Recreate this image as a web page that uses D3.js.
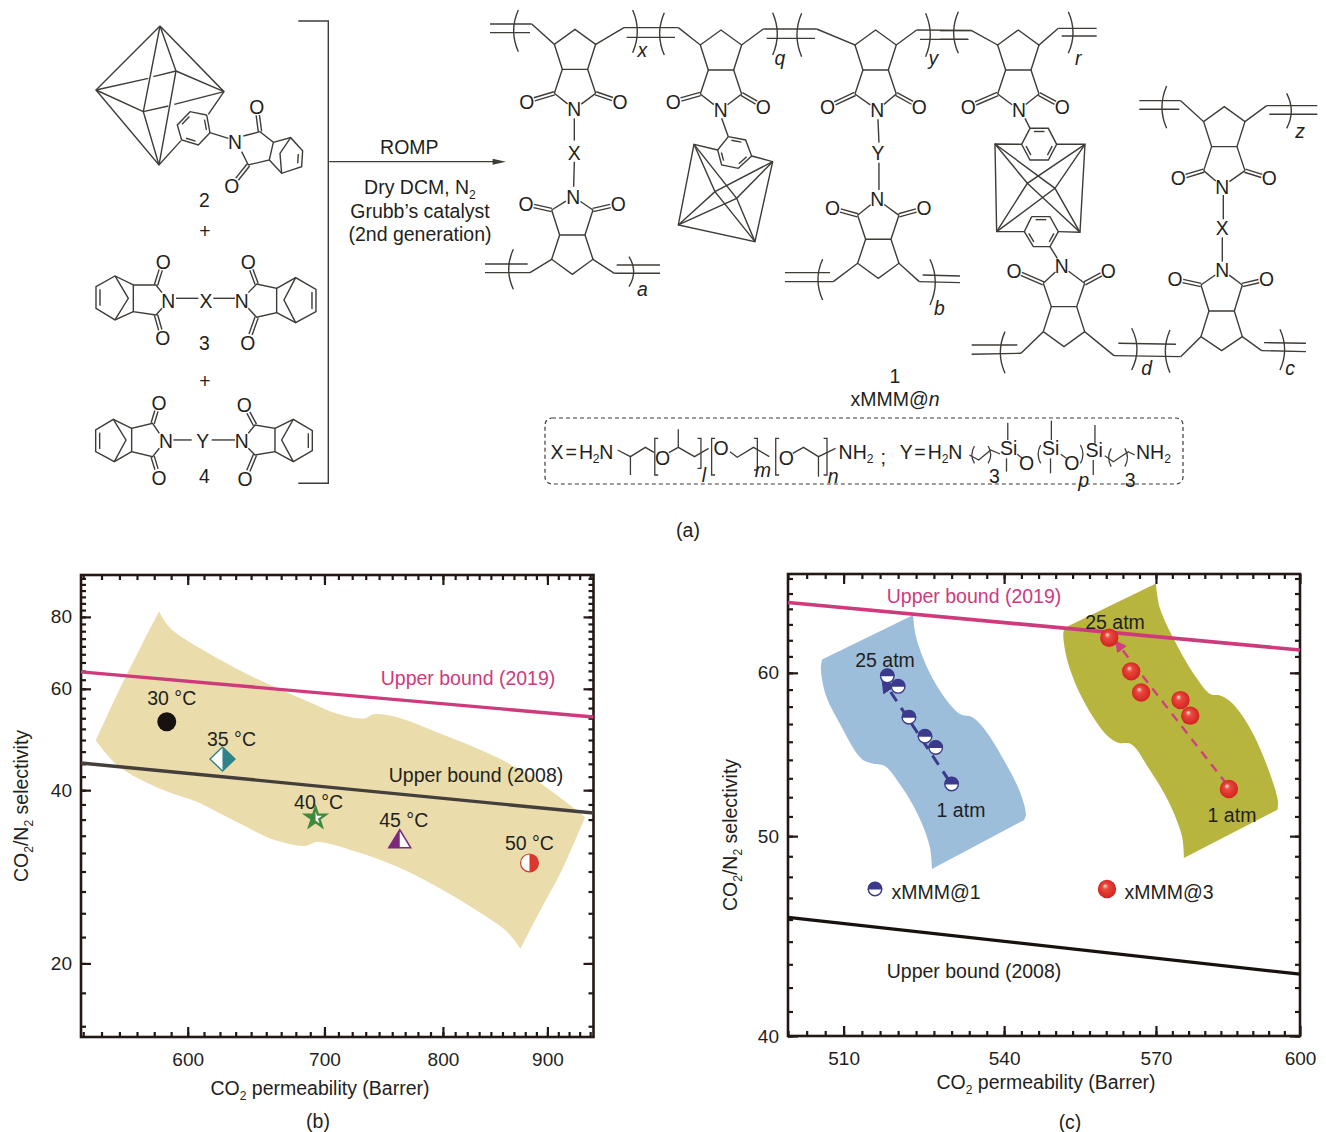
<!DOCTYPE html>
<meta charset="utf-8">
<head>
<script src="https://d3js.org/d3.v7.min.js"></script>
<style>
body { margin: 0; background: #fff; }
text { font-family: "Liberation Sans", Arial, sans-serif; fill: #231f20; }
.chem path { fill: none; stroke: #3f3b37; stroke-linejoin: miter; }
.axis path { display: none; }
.axis line { stroke: #231815; stroke-width: 2.2; }
</style>
</head>
<body>
<svg id="fig" width="1326" height="1132"></svg>
<script>
// ---- panel (b) values
var tempLabels = ["30 °C", "35 °C", "40 °C", "45 °C", "50 °C"];
var tempX = [586, 624, 693, 762, 882];
var tempY = [52.6, 45.3, 35.8, 32.8, 29.9];
var bX2019 = [532, 948], bY2019 = [64.2, 53.6];
var bX2008 = [532, 948], bY2008 = [44.6, 36.5];
var bXTicks = [600, 700, 800, 900], bYTicks = [20, 40, 60, 80];
// beige band outline: [permeability, selectivity]
var bBandTop = [[581, 81.8], [588, 76.6], [612, 69.7], [640, 63.9], [663, 60.3], [688, 56.9], [709, 54.4], [732, 53.3], [740, 54.2], [759, 53.6], [793, 50.6], [830, 47.4], [867, 44], [907, 39.5], [939, 35.9]];
var bBandRight = [[939, 35.9], [915, 29.1], [891, 24.4], [873, 21.2]];
var bBandBottom = [[873, 21.2], [860, 22.7], [830, 24.8], [793, 27.3], [759, 29.5], [725, 31.3], [694, 32.5], [685, 32], [663, 32.7], [634, 35.2], [607, 38.1], [580, 40.4], [555, 44], [541, 48.8]];
var bBandLeft = [[541, 48.8], [555, 59.4], [570, 71.8], [581, 81.8]];

// ---- panel (c) values
var m1X = [530, 527, 525, 522, 520, 518];
var m1Y = [53, 55.2, 55.9, 57.1, 59.1, 59.8];
var m3X = [585, 577, 575, 567, 565, 560.6];
var m3Y = [52.7, 57.2, 58.2, 58.7, 60.1, 62.4];
var m1Arrow = [[529.5, 53.2], [517.2, 59.5]];
var m3Arrow = [[584.5, 53], [562, 62.1]];
var cX2019 = [500, 600], cY2019 = [64.9, 61.55];
var cX2008 = [500, 600], cY2008 = [45.66, 42.86];
var cXTicks = [510, 540, 570, 600], cYTicks = [40, 50, 60];
var cBlueTop = [[506.1, 60.9], [522.8, 64]];
var cBlueRight = [[522.8, 64], [523.3, 62.5], [525.6, 60.2], [528.6, 58.4], [531.6, 57.3], [533.9, 57.1], [536.1, 56.4], [540, 54.4], [543.1, 52.5], [544.2, 51.2], [543.8, 50.9]];
var cBlueBottom = [[543.8, 50.9], [526.3, 48.2]];
var cBlueLeft = [[526.3, 48.2], [525.9, 49.4], [523.7, 51.2], [520.3, 53], [517.4, 54.1], [515.6, 54.2], [513.3, 54.5], [509.3, 56.7], [506.8, 58.5], [505.9, 60.2], [506.1, 60.9]];
var cOliveTop = [[551.8, 63.1], [570, 66.3]];
var cOliveRight = [[570, 66.3], [570.8, 64.5], [574.1, 62], [578.2, 59.7], [581.1, 58.6], [583.2, 58.5], [585.7, 58], [589.8, 56.2], [594, 53.3], [595.3, 52], [595.2, 51.5]];
var cOliveBottom = [[595.2, 51.5], [575.7, 48.8]];
var cOliveLeft = [[575.7, 48.8], [575.3, 50], [572.5, 52], [568.4, 54], [565, 55.4], [562.4, 55.5], [560, 56], [555.6, 58.1], [552.4, 60.7], [551.5, 62.7], [551.8, 63.1]];

var FS = 19.5;   // label size in page pixels
var svg = d3.select("#fig");
var defs = svg.append("defs");
var line = d3.line();
var smooth = d3.line().curve(d3.curveCatmullRom.alpha(0.5));

var grad = defs.append("radialGradient").attr("id", "sphere")
  .attr("cx", "50%").attr("cy", "50%").attr("r", "55%").attr("fx", "38%").attr("fy", "32%");
grad.append("stop").attr("offset", "0%").attr("stop-color", "#fbe3df");
grad.append("stop").attr("offset", "28%").attr("stop-color", "#ea4a3e");
grad.append("stop").attr("offset", "100%").attr("stop-color", "#cf1f1d");

defs.append("clipPath").attr("id", "leftHalf").append("rect").attr("x", -20).attr("y", -20).attr("width", 20).attr("height", 40);
defs.append("clipPath").attr("id", "rightHalf").append("rect").attr("x", 0).attr("y", -20).attr("width", 20).attr("height", 40);
defs.append("clipPath").attr("id", "topHalf").append("rect").attr("x", -20).attr("y", -20).attr("width", 40).attr("height", 20.5);

function arrowHead(id, col) {
  defs.append("marker").attr("id", id).attr("viewBox", "0 0 10 10").attr("refX", 8).attr("refY", 5)
    .attr("markerWidth", 5).attr("markerHeight", 5).attr("orient", "auto")
    .append("path").attr("d", "M0,0L10,5L0,10Z").attr("fill", col);
}
arrowHead("headBlue", "#3b3a8c");
arrowHead("headPink", "#d1407e");

// text with sub / italic runs: parts = [["CO"], ["2", "sub"], ["/N"], ...]
function txt(g, x, y, parts, size, anchor) {
  if (typeof parts === "string") parts = [[parts]];
  var t = g.append("text").attr("x", x).attr("y", y).attr("font-size", size).attr("text-anchor", anchor || "middle");
  var wasSub = false;
  parts.forEach(function(p) {
    var s = t.append("tspan").text(p[0]);
    var dy = 0;
    if (p[1] === "sub") { dy = size * 0.24; s.attr("font-size", size * 0.62); wasSub = true; }
    else if (wasSub) { dy = -size * 0.24; wasSub = false; }
    if (dy) s.attr("dy", dy);
    if (p[1] === "i") s.attr("font-style", "italic");
  });
  return t;
}

// ---- charts
function panel(o) {
  var x = d3.scaleLog().domain(o.xDomain).range([o.left, o.right]);
  var y = d3.scaleLog().domain(o.yDomain).range([o.bottom, o.top]);
  var g = svg.append("g");

  function minors(dom, step, start) {
    var out = [];
    for (var v = start; v <= dom[1]; v += step) if (v >= dom[0]) out.push(v);
    return out;
  }
  var xMin = minors(o.xDomain, o.xStep, o.xStart);
  var yMin = minors(o.yDomain, o.yStep, o.yStart);

  o.bands.forEach(function(b) {
    var d = b.edges.map(function(e, i) {
      var s = smooth(e.map(function(p) { return [x(p[0]), y(p[1])]; }));
      return i ? s.replace(/^M/, "L") : s;
    }).join("") + "Z";
    g.append("path").attr("d", d).attr("fill", b.fill);
  });

  function ax(gen, tx, ty, vals, len, labels, pad) {
    var a = gen.tickValues(vals).tickSize(-len).tickPadding(pad || 0)
      .tickFormat(labels ? d3.format("d") : "");
    var s = g.append("g").attr("class", "axis").attr("transform", "translate(" + tx + "," + ty + ")").call(a);
    s.selectAll("text").attr("font-size", 19).attr("fill", "#231f20")
      .style("font-family", '"Liberation Sans", Arial, sans-serif');
  }
  ax(d3.axisBottom(x), 0, o.bottom, xMin, 5, false);
  ax(d3.axisTop(x), 0, o.top, xMin, 5, false);
  ax(d3.axisLeft(y), o.left, 0, yMin, 5, false);
  ax(d3.axisRight(y), o.right, 0, yMin, 5, false);
  ax(d3.axisBottom(x), 0, o.bottom, o.xTicks, 10, true, 16);
  ax(d3.axisTop(x), 0, o.top, o.xTicks, 10, false);
  ax(d3.axisLeft(y), o.left, 0, o.yTicks, 10, true, 9);
  ax(d3.axisRight(y), o.right, 0, o.yTicks, 10, false);
  g.append("rect").attr("x", o.left).attr("y", o.top).attr("width", o.right - o.left).attr("height", o.bottom - o.top)
    .attr("fill", "none").attr("stroke", "#231815").attr("stroke-width", 2.6);

  o.lines.forEach(function(l) {
    g.append("path").attr("d", line([[x(l.x[0]), y(l.y[0])], [x(l.x[1]), y(l.y[1])]]))
      .attr("stroke", l.col).attr("stroke-width", l.w).attr("fill", "none");
  });

  txt(g, o.xTitle[0], o.xTitle[1], [["CO"], ["2", "sub"], [" permeability (Barrer)"]], FS);
  var yt = o.yTitle;
  txt(g, 0, 0, [["CO"], ["2", "sub"], ["/N"], ["2", "sub"], [" selectivity"]], FS)
    .attr("transform", "translate(" + yt[0] + "," + yt[1] + ") rotate(-90)");
  return { g: g, x: x, y: y };
}

var pb = panel({
  left: 81, right: 593.5, top: 575, bottom: 1037,
  xDomain: [532, 948], yDomain: [14.9, 94.6],
  xTicks: bXTicks, yTicks: bYTicks,
  xStep: 100 / 9, xStart: 500, yStep: 20 / 9, yStart: 20 - 2 * 20 / 9,
  bands: [{ fill: "#eaddab", edges: [bBandTop, bBandRight, bBandBottom, bBandLeft] }],
  lines: [
    { x: bX2019, y: bY2019, col: "#cf3a7c", w: 3.4 },
    { x: bX2008, y: bY2008, col: "#453f3c", w: 3.4 }
  ],
  xTitle: [320, 1095], yTitle: [28, 806]
});

var pc = panel({
  left: 788, right: 1300, top: 574, bottom: 1036,
  xDomain: [500, 600], yDomain: [40, 67],
  xTicks: cXTicks, yTicks: cYTicks,
  xStep: 10 / 3, xStart: 500, yStep: 10 / 9, yStart: 40,
  bands: [
    { fill: "#9dbedb", edges: [cBlueTop, cBlueRight, cBlueBottom, cBlueLeft] },
    { fill: "#b8b53f", edges: [cOliveTop, cOliveRight, cOliveBottom, cOliveLeft] }
  ],
  lines: [
    { x: cX2019, y: cY2019, col: "#cf3a7c", w: 3.6 },
    { x: cX2008, y: cY2008, col: "#17120f", w: 3.2 }
  ],
  xTitle: [1046, 1089], yTitle: [737, 835]
});

// ---- panel (b) marks
txt(pb.g, 468, 685, "Upper bound (2019)", FS).style("fill", "#cf3a7c");
txt(pb.g, 476, 782, "Upper bound (2008)", FS);

function halfMark(g, px, py, d, col, clip, sw) {
  var m = g.append("g").attr("transform", "translate(" + px + "," + py + ")");
  m.append("path").attr("d", d).attr("fill", "#fff").attr("stroke", col).attr("stroke-width", sw);
  m.append("path").attr("d", d).attr("fill", col).attr("clip-path", "url(#" + clip + ")");
}
var circleD = d3.symbol(d3.symbolCircle, 250)();
var diamondD = d3.line()([[0, -12], [12.5, 0], [0, 12], [-12.5, 0]]) + "Z";
var starD = d3.symbol(d3.symbolStar, 125)();
var triD = d3.line()([[0, -10], [11, 8], [-11, 8]]) + "Z";
pb.g.selectAll("circle.t30").data([0]).join("circle")
  .attr("cx", pb.x(tempX[0])).attr("cy", pb.y(tempY[0])).attr("r", 9.5).attr("fill", "#17120f");
halfMark(pb.g, pb.x(tempX[1]), pb.y(tempY[1]), diamondD, "#2f8489", "rightHalf", 1.4);
halfMark(pb.g, pb.x(tempX[2]), pb.y(tempY[2]), starD, "#3f8a3c", "leftHalf", 2.4);
halfMark(pb.g, pb.x(tempX[3]), pb.y(tempY[3]), triD, "#7d2a7e", "leftHalf", 1.5);
halfMark(pb.g, pb.x(tempX[4]), pb.y(tempY[4]), circleD, "#d9382a", "rightHalf", 1.2);
var tempDx = [5, 9, 3, 4, 0], tempDy = [-17, -13, -9, -13, -13];
tempLabels.forEach(function(t, i) {
  txt(pb.g, pb.x(tempX[i]) + tempDx[i], pb.y(tempY[i]) + tempDy[i], t, FS);
});

// ---- panel (c) marks
function dashArrow(pts, col, w, dash, head) {
  pc.g.append("path").attr("d", line(pts.map(function(p) { return [pc.x(p[0]), pc.y(p[1])]; })))
    .attr("fill", "none").attr("stroke", col).attr("stroke-width", w)
    .attr("stroke-dasharray", dash).attr("marker-end", "url(#" + head + ")");
}
dashArrow(m1Arrow, "#3b3a8c", 3, "11,8", "headBlue");
dashArrow(m3Arrow, "#d1407e", 2.4, "9,7", "headPink");

function blueMark(g, px, py) {
  var m = g.append("g").attr("transform", "translate(" + px + "," + py + ")");
  m.append("circle").attr("r", 6.8).attr("fill", "#fff").attr("stroke", "#3b3a8c").attr("stroke-width", 1.4);
  m.append("circle").attr("r", 7.2).attr("fill", "#3b3a8c").attr("clip-path", "url(#topHalf)");
}
function redMark(g, px, py) {
  g.append("circle").attr("cx", px).attr("cy", py).attr("r", 9.2).attr("fill", "url(#sphere)");
}
m1X.forEach(function(v, i) { blueMark(pc.g, pc.x(v), pc.y(m1Y[i])); });
m3X.forEach(function(v, i) { redMark(pc.g, pc.x(v), pc.y(m3Y[i])); });
blueMark(pc.g, 875, 889);
redMark(pc.g, 1107, 889);

txt(pc.g, 974, 603, "Upper bound (2019)", FS).style("fill", "#cf3a7c");
txt(pc.g, 974, 978, "Upper bound (2008)", FS);
txt(pc.g, 936, 899, "xMMM@1", FS);
txt(pc.g, 1169, 899, "xMMM@3", FS);
txt(pc.g, 885, 667, "25 atm", FS);
txt(pc.g, 961, 817, "1 atm", FS);
txt(pc.g, 1115, 629, "25 atm", FS);
txt(pc.g, 1232, 822, "1 atm", FS);

txt(svg, 688, 537, "(a)", FS);
txt(svg, 318, 1128, "(b)", FS);
txt(svg, 1070, 1129, "(c)", FS);

// ---- scheme (a), three groups drawn at 3x so the crop coordinates stay readable
var g3 = svg.append("g").attr("class", "chem").attr("transform", "translate(80,10) scale(0.3333)").attr("stroke-width", 4.2);
var g4 = svg.append("g").attr("class", "chem").attr("transform", "translate(480,10) scale(0.3333)").attr("stroke-width", 4.2);
var g5 = svg.append("g").attr("class", "chem").attr("transform", "translate(940,10) scale(0.3333)").attr("stroke-width", 4.2);

function seg(g, pts) { g.append("path").attr("d", line(pts)); }
function segs(g, list) { list.forEach(function(p) { seg(g, p); }); }
function atom(g, x, y, s, size) { txt(g, x, y + (size || 58) * 0.36, s, size || 58); }
function trim(a, b, ta, tb) {
  var dx = b[0] - a[0], dy = b[1] - a[1], l = Math.hypot(dx, dy);
  return [[a[0] + dx * ta / l, a[1] + dy * ta / l], [b[0] - dx * tb / l, b[1] - dy * tb / l]];
}
function dbl(g, a, b, ta, tb, off) {
  var t = trim(a, b, ta, tb);
  var dx = b[0] - a[0], dy = b[1] - a[1], l = Math.hypot(dx, dy);
  var nx = -dy / l * off, ny = dx / l * off;
  seg(g, [[t[0][0] + nx, t[0][1] + ny], [t[1][0] + nx, t[1][1] + ny]]);
  seg(g, [[t[0][0] - nx, t[0][1] - ny], [t[1][0] - nx, t[1][1] - ny]]);
}
function paren(g, x, y1, y2, bow) {
  g.append("path").attr("d", "M" + x + "," + y1 + "Q" + (x + bow * 4) + "," + ((y1 + y2) / 2) + " " + x + "," + y2);
}
function benzene(g, p) {
  var d = p.concat([p[0]]);
  seg(g, d);
  var cx = d3.mean(p, function(q) { return q[0]; }), cy = d3.mean(p, function(q) { return q[1]; });
  [0, 2, 4].forEach(function(i) {
    var a = p[i], b = p[(i + 1) % 6];
    var i1 = [a[0] + (cx - a[0]) * 0.2, a[1] + (cy - a[1]) * 0.2];
    var i2 = [b[0] + (cx - b[0]) * 0.2, b[1] + (cy - b[1]) * 0.2];
    seg(g, trim(i1, i2, 6, 6));
  });
}

// one imide / cyclopentane repeat unit of the polymer
function unit(g, u) {
  var h = u.h || [48, 120, 195, 240], d = u.dir, c = u.cx, n = u.ny;
  var C1 = [c - 62, n + d * h[0]], C2 = [c + 62, n + d * h[0]];
  var R1 = [c - 38, n + d * h[1]], R2 = [c + 38, n + d * h[1]];
  var A1 = [c - 62, n + d * h[2]], A2 = [c + 62, n + d * h[2]];
  var T = [c, n + d * h[3]], N = [u.nx, n];
  seg(g, [u.lv, A1, T, A2, u.rv]);
  seg(g, [A1, R1, R2, A2]);
  seg(g, [R1, C1]);
  seg(g, [R2, C2]);
  seg(g, trim(C1, N, 0, 26));
  seg(g, trim(C2, N, 0, 26));
  dbl(g, C1, u.o1, 0, 24, 5);
  dbl(g, C2, u.o2, 0, 24, 5);
  atom(g, N[0], N[1], "N");
  atom(g, u.o1[0], u.o1[1], "O");
  atom(g, u.o2[0], u.o2[1], "O");
}

// monomer 2
segs(g3, [
  [[240, 48], [48, 240], [237, 465], [303, 392]],
  [[240, 48], [432, 245], [385, 313]],
  [[240, 48], [190, 305], [237, 465]],
  [[240, 48], [288, 183], [237, 465]],
  [[48, 240], [190, 305]],
  [[48, 240], [205, 205]], [[220, 200], [288, 183]],
  [[288, 183], [432, 245]],
  [[190, 305], [265, 288]], [[283, 283], [432, 245]]
]);
benzene(g3, [[380, 315], [390, 368], [355, 405], [305, 390], [292, 345], [330, 305]]);
seg(g3, [[390, 368], [445, 385]]);
atom(g3, 465, 397, "N");
seg(g3, [[490, 378], [540, 365], [580, 397], [568, 450], [505, 465], [485, 425]]);
dbl(g3, [540, 365], [530, 290], 0, 26, 5);
dbl(g3, [505, 465], [455, 528], 0, 26, 5);
atom(g3, 530, 290, "O");
atom(g3, 455, 528, "O");
seg(g3, [[580, 397], [632, 383], [668, 422], [665, 470], [605, 490], [568, 450]]);
seg(g3, [[632, 383], [600, 430], [605, 490]]);
seg(g3, [[655, 432], [653, 460]]);

// bis-norbornene monomers 3 and 4 share the same outline
function halfNorb(g, s, o) {
  // s = 1 left half, s = -1 right half; o holds the crop coordinates of this half
  seg(g, [o.N1, o.C1, o.R1, o.R2, o.C2, o.N2]);
  dbl(g, o.C1, o.O1, 0, 26, 5);
  dbl(g, o.C2, o.O2, 0, 26, 5);
  seg(g, [o.R1, o.B1, o.E1, o.E2, o.B2, o.R2]);
  seg(g, [o.B1, o.M, o.B2]);
  seg(g, [[o.E1[0] + s * 12, o.E1[1] + 8], [o.E2[0] + s * 12, o.E2[1] - 8]]);
  atom(g, o.O1[0], o.O1[1], "O");
  atom(g, o.O2[0], o.O2[1], "O");
}
halfNorb(g3, 1, { N1: [246, 848], N2: [246, 895], C1: [228, 825], C2: [228, 915], R1: [160, 825], R2: [160, 905], O1: [250, 755], O2: [248, 985], B1: [105, 798], B2: [105, 930], E1: [48, 830], E2: [48, 895], M: [145, 865] });
halfNorb(g3, -1, { N1: [505, 848], N2: [505, 895], C1: [530, 822], C2: [530, 922], R1: [590, 835], R2: [590, 908], O1: [505, 755], O2: [503, 998], B1: [647, 803], B2: [647, 938], E1: [708, 838], E2: [708, 905], M: [612, 870] });
atom(g3, 265, 872, "N"); atom(g3, 378, 872, "X"); atom(g3, 485, 872, "N");
seg(g3, [[288, 865], [355, 865]]);
seg(g3, [[400, 865], [465, 865]]);

halfNorb(g3, 1, { N1: [238, 1270], N2: [238, 1315], C1: [218, 1240], C2: [218, 1340], R1: [155, 1255], R2: [155, 1325], O1: [237, 1178], O2: [237, 1403], B1: [100, 1228], B2: [103, 1355], E1: [47, 1260], E2: [47, 1325], M: [138, 1290] });
halfNorb(g3, -1, { N1: [505, 1270], N2: [505, 1315], C1: [525, 1245], C2: [525, 1335], R1: [585, 1255], R2: [585, 1325], O1: [493, 1185], O2: [495, 1407], B1: [640, 1228], B2: [640, 1355], E1: [697, 1262], E2: [697, 1322], M: [605, 1290] });
atom(g3, 258, 1292, "N"); atom(g3, 368, 1292, "Y"); atom(g3, 485, 1292, "N");
seg(g3, [[280, 1290], [335, 1290]]);
seg(g3, [[395, 1290], [465, 1290]]);

atom(g3, 373, 570, "2"); atom(g3, 375, 663, "+");
atom(g3, 373, 998, "3"); atom(g3, 375, 1113, "+");
atom(g3, 373, 1397, "4");

// bracket, reaction arrow and conditions
seg(g3, [[655, 33], [745, 33], [745, 1420], [655, 1420]]);
seg(g3, [[748, 455], [1240, 455]]);
g3.append("path").attr("d", line([[1238, 446], [1278, 455], [1238, 464]]) + "Z").style("fill", "#3f3b37").style("stroke", "none");
txt(g3, 988, 431, "ROMP", FS * 3);
txt(g3, 1020, 553, [["Dry DCM, N"], ["2", "sub"]], FS * 3);
txt(g3, 1020, 624, "Grubb’s catalyst", FS * 3);
txt(g3, 1020, 693, "(2nd generation)", FS * 3);

// polymer, middle part
var O4 = function(x, y) { return [x, y]; };
unit(g4, { cx: 285, ny: 298, nx: 283, dir: -1, o1: O4(140, 275), o2: O4(420, 275), lv: [155, 42], rv: [432, 53] });
unit(g4, { cx: 723, ny: 300, nx: 722, dir: -1, o1: O4(580, 275), o2: O4(850, 290), lv: [595, 53], rv: [850, 57] });
unit(g4, { cx: 1187, ny: 300, nx: 1192, dir: -1, o1: O4(1043, 290), o2: O4(1318, 290), lv: [1010, 57], rv: [1310, 60] });
unit(g4, { cx: 277, ny: 560, nx: 280, dir: 1, h: [40, 115, 188, 233], o1: O4(138, 583), o2: O4(415, 583), lv: [150, 788], rv: [403, 790] });
unit(g4, { cx: 1195, ny: 568, nx: 1192, dir: 1, h: [48, 120, 192, 237], o1: O4(1058, 595), o2: O4(1332, 595), lv: [1060, 815], rv: [1318, 815] });
segs(g4, [
  [[30, 42], [155, 42]], [[30, 68], [150, 68]],
  [[432, 53], [595, 53]], [[440, 82], [585, 82]],
  [[850, 57], [1010, 57]], [[860, 85], [1005, 85]],
  [[1310, 60], [1475, 61]], [[1320, 88], [1465, 88]],
  [[15, 788], [150, 788]], [[15, 762], [143, 762]],
  [[403, 790], [540, 790]], [[410, 765], [540, 765]],
  [[915, 815], [1060, 815]], [[915, 788], [1050, 788]],
  [[1318, 815], [1440, 818]], [[1328, 795], [1440, 798]]
]);
[[115, 0, 125, -7], [458, 0, 128, 7], [553, 8, 135, -7], [878, 8, 135, 7], [965, 10, 140, -7], [1337, 10, 140, 7],
 [100, 718, 838, -7], [447, 740, 830, 7], [1028, 748, 870, -7], [1350, 748, 885, 8]].forEach(function(p) { paren(g4, p[0], p[1], p[2], p[3]); });
[["x", 487, 142], ["q", 900, 165], ["y", 1360, 165], ["a", 487, 857], ["b", 1378, 915]].forEach(function(l) {
  txt(g4, l[1], l[2], [[l[0], "i"]], 58);
});
seg(g4, [[283, 325], [283, 392]]);
atom(g4, 283, 428, "X");
seg(g4, [[283, 455], [281, 530]]);
seg(g4, [[1194, 328], [1197, 398]]);
atom(g4, 1194, 428, "Y");
seg(g4, [[1197, 458], [1197, 540]]);

// middle cage with its phenyl ring
benzene(g4, [[745, 380], [797, 390], [815, 438], [775, 475], [725, 465], [713, 420]]);
seg(g4, [[725, 325], [745, 380]]);
segs(g4, [
  [[713, 420], [642, 403], [595, 645], [825, 695], [878, 455], [815, 438]],
  [[642, 403], [705, 545], [825, 695]],
  [[642, 403], [770, 565], [825, 695]],
  [[595, 645], [705, 545], [878, 455]],
  [[595, 645], [770, 565], [878, 455]]
]);

// polymer, right part
unit(g5, { cx: 235, ny: 300, nx: 237, dir: -1, o1: O4(85, 290), o2: O4(367, 290), lv: [95, 62], rv: [355, 55] });
unit(g5, { cx: 853, ny: 530, nx: 847, dir: -1, o1: O4(715, 505), o2: O4(988, 505), lv: [722, 272], rv: [980, 287] });
unit(g5, { cx: 372, ny: 768, nx: 365, dir: 1, h: [52, 122, 197, 242], o1: O4(222, 782), o2: O4(505, 782), lv: [243, 1030], rv: [522, 1037] });
unit(g5, { cx: 845, ny: 780, nx: 847, dir: 1, h: [45, 123, 200, 242], o1: O4(705, 808), o2: O4(980, 808), lv: [722, 1040], rv: [965, 1022] });
segs(g5, [
  [[0, 62], [95, 62]], [[0, 88], [85, 88]],
  [[355, 55], [470, 55]], [[365, 78], [470, 78]],
  [[598, 272], [722, 272]], [[598, 298], [718, 298]],
  [[980, 287], [1132, 287]], [[988, 313], [1132, 313]],
  [[95, 1033], [243, 1030]], [[95, 1005], [232, 1005]],
  [[522, 1037], [722, 1040]], [[535, 1000], [708, 1003]],
  [[965, 1022], [1098, 1025]], [[972, 998], [1098, 1000]]
]);
[[55, 5, 130, -7], [385, 5, 130, 7], [680, 228, 355, -7], [1040, 250, 355, 7],
 [195, 965, 1090, -7], [575, 955, 1080, 8], [690, 960, 1088, -7], [1020, 958, 1080, 7]].forEach(function(p) { paren(g5, p[0], p[1], p[2], p[3]); });
[["r", 415, 165], ["z", 1080, 385], ["d", 620, 1095], ["c", 1050, 1095]].forEach(function(l) {
  txt(g5, l[1], l[2], [[l[0], "i"]], 58);
});
seg(g5, [[850, 555], [850, 628]]);
atom(g5, 847, 655, "X");
seg(g5, [[847, 682], [847, 755]]);

benzene(g5, [[270, 355], [325, 355], [350, 403], [325, 450], [270, 450], [245, 403]]);
benzene(g5, [[275, 620], [330, 620], [355, 665], [330, 710], [280, 710], [253, 665]]);
seg(g5, [[255, 325], [270, 355]]);
seg(g5, [[330, 710], [352, 745]]);
segs(g5, [
  [[245, 403], [165, 402], [170, 665], [253, 665]],
  [[350, 403], [435, 403], [420, 667], [355, 665]],
  [[165, 402], [262, 520], [420, 667]],
  [[165, 402], [345, 535], [420, 667]],
  [[435, 403], [262, 520], [170, 665]],
  [[435, 403], [345, 535], [170, 665]]
]);

// compound number and the X / Y definition box
txt(svg, 895, 383, "1", FS);
txt(svg, 895, 406, [["xMMM@"], ["n", "i"]], FS);
svg.append("rect").attr("x", 545).attr("y", 418).attr("width", 638).attr("height", 66).attr("rx", 7)
  .attr("fill", "none").attr("stroke", "#3f3b37").attr("stroke-width", 1.2).attr("stroke-dasharray", "4,3");

function fx(z) { return 530 + z / 2.34; }
function fy(z) { return 360 + z / 3; }
var gf = svg.append("g").attr("class", "chem").attr("stroke-width", 1.3);
function fseg(pts) { seg(gf, pts.map(function(p) { return [fx(p[0]), fy(p[1])]; })); }
function ftxt(z, y, parts, size, anchor) { return txt(gf, fx(z), fy(y), parts, size || FS, anchor || "start"); }
function fbr(x, y1, y2, dir) { fseg([[x + dir * 8, y1], [x, y1], [x, y2], [x + dir * 8, y2]]); }
function farc(x, y1, y2, bow) { var c = gf.append("path"); c.attr("d", "M" + fx(x) + "," + fy(y1) + "Q" + fx(x + bow) + "," + fy((y1 + y2) / 2) + " " + fx(x) + "," + fy(y2)); }

ftxt(48, 296, [["X = H"], ["2", "sub"], ["N"]]).attr("word-spacing", -3).attr("letter-spacing", -0.2);
fseg([[205, 270], [235, 290], [270, 262], [290, 277]]);
fseg([[235, 290], [235, 345]]);
fbr(292, 235, 345, 1);
ftxt(310, 316, "O", FS, "middle");
fseg([[325, 278], [347, 262], [385, 290], [418, 265]]);
fseg([[347, 262], [347, 208]]);
fbr(400, 235, 325, -1);
ftxt(402, 366, [["l", "i"]]);
fbr(425, 235, 345, 1);
ftxt(447, 284, "O", FS, "middle");
fseg([[468, 275], [485, 292], [523, 262], [560, 290]]);
fbr(532, 235, 330, -1);
ftxt(526, 352, [["m", "i"]]);
fbr(575, 235, 345, 1);
ftxt(600, 314, "O", FS, "middle");
fseg([[615, 280], [640, 262], [675, 290], [715, 265]]);
fseg([[675, 290], [675, 350]]);
fbr(695, 235, 345, -1);
ftxt(697, 368, [["n", "i"]]);
ftxt(722, 296, [["NH"], ["2", "sub"]]);
ftxt(820, 312, ";");

ftxt(865, 296, [["Y = H"], ["2", "sub"], ["N"]]).attr("word-spacing", -3).attr("letter-spacing", -0.2);
fseg([[1028, 285], [1050, 300], [1078, 270], [1100, 282]]);
farc(1040, 258, 310, -12);
farc(1072, 258, 310, 12);
ftxt(1074, 368, "3");
ftxt(1100, 284, "Si");
fseg([[1118, 188], [1118, 240]]);
fseg([[1115, 295], [1115, 335]]);
fseg([[1140, 283], [1152, 295]]);
ftxt(1162, 330, "O", FS, "middle");
farc(1195, 255, 310, -12);
ftxt(1198, 284, "Si");
fseg([[1220, 182], [1220, 240]]);
fseg([[1218, 295], [1218, 340]]);
fseg([[1242, 283], [1255, 295]]);
ftxt(1268, 330, "O", FS, "middle");
farc(1288, 255, 310, 12);
ftxt(1300, 290, "Si");
fseg([[1322, 195], [1322, 250]]);
fseg([[1318, 300], [1318, 345]]);
ftxt(1283, 382, [["p", "i"]]);
fseg([[1345, 287], [1365, 305], [1400, 275], [1415, 285]]);
farc(1360, 265, 320, -12);
farc(1392, 265, 320, 12);
ftxt(1392, 380, "3");
ftxt(1418, 296, [["NH"], ["2", "sub"]]);
</script>
</body>
